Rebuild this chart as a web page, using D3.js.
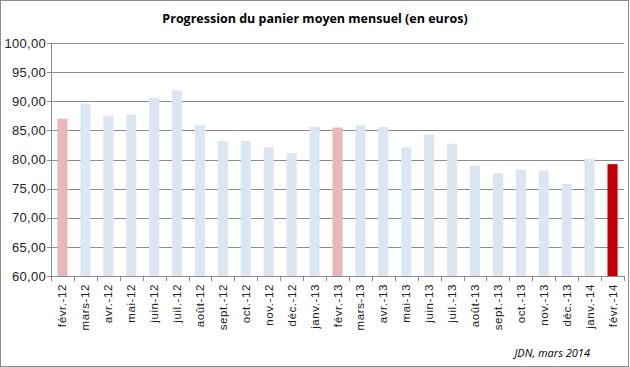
<!DOCTYPE html>
<html lang="fr">
<head>
<meta charset="UTF-8">
<title>Progression du panier moyen mensuel</title>
<script src="https://d3js.org/d3.v7.min.js"></script>
<style>
    body { margin: 0; background: #fff; font-family: "Open Sans", sans-serif; }
    .frame { fill: none; stroke: #8c8c8c; stroke-width: 1; }
    .grid line { stroke: #8c8c8c; shape-rendering: crispEdges; }
    .axis path, .axis line { stroke: #8c8c8c; shape-rendering: crispEdges; }
    .axis text { fill: #222; }
</style>
</head>
<body>
<div id="chart"></div>
<script>
// months, Feb 2012 -> Feb 2014
const months = ["févr.-12","mars-12","avr.-12","mai-12","juin-12","juil.-12","août-12","sept.-12","oct.-12","nov.-12","déc.-12",
    "janv.-13","févr.-13","mars-13","avr.-13","mai-13","juin-13","juil.-13","août-13","sept.-13","oct.-13","nov.-13","déc.-13",
    "janv.-14","févr.-14"];
const basket = [87.0, 89.6, 87.5, 87.7, 90.6, 91.9, 85.9, 83.2, 83.2, 82.1, 81.1,
    85.6, 85.5, 85.9, 85.6, 82.1, 84.3, 82.7, 78.9, 77.7, 78.3, 78.1, 75.8,
    80.1, 79.2];
const yTicks = [60, 65, 70, 75, 80, 85, 90, 95, 100];

const W = 630, H = 367;
const margin = {top: 43, right: 6, bottom: 91, left: 51};
const width = W - margin.left - margin.right;
const height = H - margin.top - margin.bottom;

const svg = d3.select("#chart").append("svg")
    .attr("width", W)
    .attr("height", H);

svg.append("rect").attr("class", "frame")
    .attr("x", 0.5).attr("y", 0.5)
    .attr("width", W - 2).attr("height", H - 1);

svg.append("text")
    .attr("x", 315).attr("y", 23)
    .attr("text-anchor", "middle")
    .style("font-size", "12.5px")
    .style("font-weight", "bold")
    .text("Progression du panier moyen mensuel (en euros)");

const g = svg.append("g").attr("transform", `translate(${margin.left},${margin.top})`);

const x = d3.scaleBand().domain(months).range([0, width]).paddingInner(0.56).paddingOuter(0.28);
const y = d3.scaleLinear().domain([60, 100]).range([height, 0]);

// gridlines
g.append("g").attr("class", "grid")
    .selectAll("line")
    .data(yTicks.slice(1))
    .join("line")
    .attr("x1", 0).attr("x2", width)
    .attr("y1", d => Math.round(y(d)) + 0.5).attr("y2", d => Math.round(y(d)) + 0.5);

// bars
const colorOf = (d, i) => i === months.length - 1 ? "#c00000" : (d.startsWith("févr.") ? "#e6b9b8" : "#dce6f2");
g.selectAll(".bar")
    .data(months)
    .join("rect")
    .attr("class", "bar")
    .attr("x", d => x(d))
    .attr("width", x.bandwidth())
    .attr("y", (d, i) => y(basket[i]))
    .attr("height", (d, i) => height - y(basket[i]))
    .attr("fill", colorOf);

// y axis
const fmt = d => d.toFixed(2).replace(".", ",");
const yAxis = g.append("g").attr("class", "axis")
    .call(d3.axisLeft(y).tickValues(yTicks).tickFormat(fmt).tickSize(4).tickSizeOuter(0));
yAxis.selectAll("text").style("font-size", "13px").style("letter-spacing", "0.3px").attr("x", -5);

// x axis with ticks on band boundaries
const xAxis = g.append("g").attr("class", "axis")
    .attr("transform", `translate(0,${height})`)
    .call(d3.axisBottom(x).tickSize(0).tickSizeOuter(0));
xAxis.selectAll("text")
    .style("font-size", "11.5px")
    .style("letter-spacing", "0.6px")
    .attr("transform", "rotate(-90)")
    .attr("x", -8).attr("y", 0).attr("dy", "0.35em")
    .attr("text-anchor", "end");
xAxis.selectAll(".bound")
    .data(d3.range(months.length + 1))
    .join("line")
    .attr("class", "bound")
    .attr("x1", i => Math.round(i * width / months.length) + 0.5)
    .attr("x2", i => Math.round(i * width / months.length) + 0.5)
    .attr("y1", 0).attr("y2", 5);

svg.append("text")
    .attr("x", 590).attr("y", 357)
    .attr("text-anchor", "end")
    .style("font-size", "11px")
    .style("font-style", "italic")
    .text("JDN, mars 2014");
</script>
</body>
</html>
